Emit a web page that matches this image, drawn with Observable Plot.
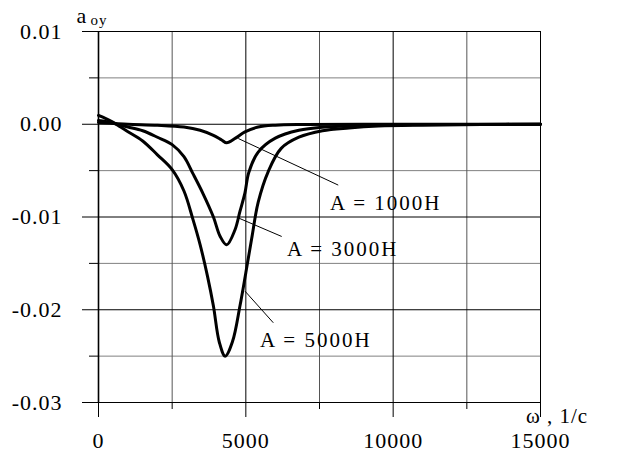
<!DOCTYPE html>
<html>
<head>
<meta charset="utf-8">
<script src="https://cdn.jsdelivr.net/npm/d3@7"></script>
<script src="https://cdn.jsdelivr.net/npm/@observablehq/plot@0.6"></script>
<style>
  html, body { margin: 0; padding: 0; background: #fff; }
  #chart { width: 627px; height: 452px; }
  svg text { font-family: "Liberation Serif", "Times New Roman", serif; }
</style>
</head>
<body>
<div id="chart"></div>
<script>
// ---- data ----
const w1000 = [0, 500, 1000, 2000, 2900, 3450, 3900, 4180, 4350, 4650, 4970, 5420, 6000, 7000, 9000, 15000];
const a1000 = [0.0002, 0.0001, 0.0, -0.0001, -0.0003, -0.00065, -0.0012, -0.0017, -0.0020, -0.0015, -0.00083, -0.0003, -0.0001, -0.00003, 0, 0];

const w3000 = [0, 250, 500, 750, 1000, 1500, 2000, 2500, 2900, 3200, 3550, 3900, 4130, 4350, 4630, 4800, 4970, 5100, 5420, 6000, 6800, 7700, 9000, 11000, 15000];
const a3000 = [0.0004, 0.0003, 0.0001, -0.0001, -0.0003, -0.0007, -0.0014, -0.0022, -0.0035, -0.0053, -0.0075, -0.0100, -0.0121, -0.0130, -0.0114, -0.0094, -0.0074, -0.0052, -0.0030, -0.0015, -0.00065, -0.0003, -0.00012, -0.00004, 0];

const w5000 = [0, 250, 500, 750, 1000, 1500, 2000, 2500, 2900, 3200, 3450, 3700, 3900, 4100, 4300, 4550, 4800, 5000, 5200, 5420, 5760, 6200, 6800, 7600, 8500, 9500, 11000, 13000, 15000];
const a5000 = [0.00095, 0.0006, 0.0002, -0.0003, -0.0008, -0.0018, -0.0033, -0.0049, -0.0072, -0.0102, -0.0130, -0.0164, -0.0196, -0.0235, -0.0250, -0.0234, -0.0196, -0.0160, -0.0123, -0.0084, -0.0051, -0.0026, -0.0014, -0.0007, -0.0004, -0.0002, -0.0001, -0.00003, 0];

const seriesNames = ["A = 1000H", "A = 3000H", "A = 5000H"];
// label anchor (text start) and leader line endpoints, in data units
const labelX = [7855, 6397, 5482];
const labelY = [-0.0085, -0.0135, -0.0233];
const leadX1 = [4746, 4746, 4973];
const leadY1 = [-0.00154, -0.0101, -0.0180];
const leadX2 = [8136, 6217, 5932];
const leadY2 = [-0.00656, -0.0121, -0.0214];

const xMajor = [0, 5000, 10000, 15000];
const xMinor = [2500, 7500, 12500];
const yMajor = [0.01, 0.0, -0.01, -0.02, -0.03];
const yMinor = [0.005, -0.005, -0.015, -0.025];
const yTickLabels = ["0.01", "0.00", "-0.01", "-0.02", "-0.03"];

// ---- build tables ----
const curves = [
  ...w1000.map((w, i) => ({w, a: a1000[i], s: seriesNames[0]})),
  ...w3000.map((w, i) => ({w, a: a3000[i], s: seriesNames[1]})),
  ...w5000.map((w, i) => ({w, a: a5000[i], s: seriesNames[2]}))
];
const labels = seriesNames.map((s, i) => ({s, x: labelX[i], y: labelY[i]}));
const leaders = seriesNames.map((s, i) => ({x1: leadX1[i], y1: leadY1[i], x2: leadX2[i], y2: leadY2[i]}));

const chart = Plot.plot({
  width: 627,
  height: 452,
  marginTop: 31,
  marginRight: 87,
  marginBottom: 50,
  marginLeft: 98,
  style: {background: "#fff", color: "#000", fontFamily: "Liberation Serif, serif", fontSize: "22px"},
  x: {domain: [0, 15000]},
  y: {domain: [-0.03, 0.01]},
  marks: [
    // grid
    Plot.ruleY(yMinor, {stroke: "#808080", strokeWidth: 1}),
    Plot.ruleX(xMinor, {stroke: "#555", strokeWidth: 1}),
    Plot.ruleY(yMajor, {stroke: "#000", strokeWidth: 1}),
    Plot.ruleX(xMajor.slice(1), {stroke: "#000", strokeWidth: 1}),
    Plot.ruleX([0], {stroke: "#000", strokeWidth: 1.6}),
    // axes
    Plot.axisY(yMajor, {tickSize: 16, tickPadding: 20, tickFormat: (d) => yTickLabels[yMajor.indexOf(d)], fontSize: 22, label: null, stroke: "#000"}),
    Plot.axisY(yMinor, {tickSize: 9, text: null, label: null, stroke: "#000"}),
    Plot.axisX(xMajor, {tickSize: 15, tickPadding: 15, tickFormat: (d) => String(d), fontSize: 22, label: null, stroke: "#000"}),
    Plot.axisX(xMinor, {tickSize: 7, text: null, label: null, stroke: "#000"}),
    // leader lines
    Plot.link(leaders, {x1: "x1", y1: "y1", x2: "x2", y2: "y2", stroke: "#000", strokeWidth: 1}),
    // curves
    Plot.line(curves, {x: "w", y: "a", z: "s", stroke: "#000", strokeWidth: 3, curve: "catmull-rom"}),
    // labels
    Plot.text(labels, {x: "x", y: "y", text: "s", textAnchor: "start", fontSize: 21, fill: "#000"})
  ]
});

const svg = d3.select(chart);
svg.selectAll("text").style("letter-spacing", "1px");
svg.selectAll("g[aria-label='text'] text").style("letter-spacing", "2px");

// axis titles
const ylab = svg.append("text").attr("x", 92).attr("y", 23)
  .style("font-family", "Liberation Serif, serif").style("font-size", "22px");
ylab.append("tspan").text("a");
ylab.append("tspan").attr("dx", 4).attr("dy", 2).style("font-size", "15px").style("letter-spacing", "1px").text("oy");

svg.append("text").attr("x", 557).attr("y", 423)
  .style("font-family", "Liberation Serif, serif").style("font-size", "21px").style("letter-spacing", "1px")
  .text("ω , 1/c");

document.getElementById("chart").append(chart);
</script>
</body>
</html>
